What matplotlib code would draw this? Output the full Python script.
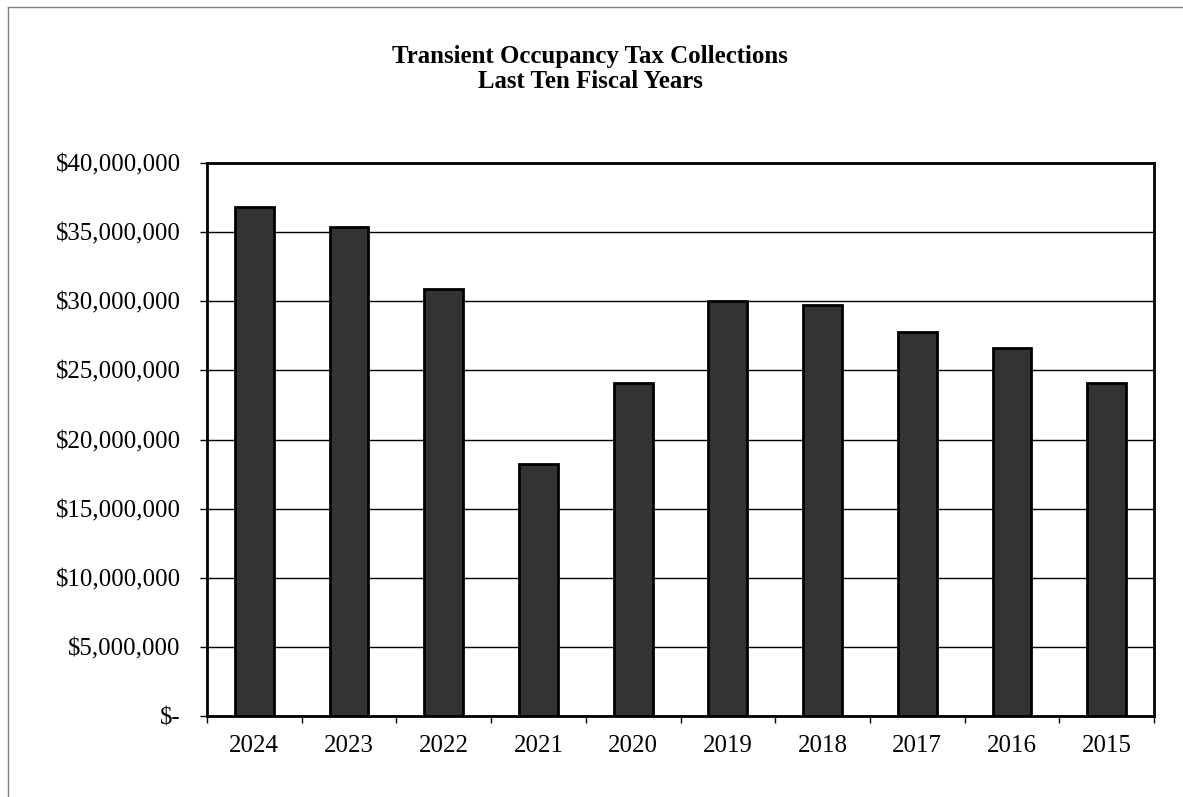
import matplotlib
matplotlib.use("Agg")
import matplotlib.pyplot as plt
from matplotlib.ticker import FuncFormatter, FixedLocator
from matplotlib.lines import Line2D

# ==== DATA ====
years = ["2024", "2023", "2022", "2021", "2020", "2019", "2018", "2017", "2016", "2015"]
collections = [36_800_000, 35_400_000, 30_860_000, 18_200_000, 24_100_000,
               30_030_000, 29_700_000, 27_750_000, 26_640_000, 24_100_000]
y_ticks = [0, 5_000_000, 10_000_000, 15_000_000, 20_000_000,
           25_000_000, 30_000_000, 35_000_000, 40_000_000]

plt.rcParams["font.family"] = ["Liberation Serif", "DejaVu Serif"]

W, H = 1183, 797
fig = plt.figure(figsize=(W / 100, H / 100), dpi=100)

# plot area in pixel coordinates of the reference
left, top, right, bottom = 207, 163, 1154, 716
ax = fig.add_axes([left / W, (H - bottom) / H, (right - left) / W, (bottom - top) / H])

x = range(len(years))
ax.bar(x, collections, width=0.41, color="#333333", edgecolor="black",
       linewidth=2, zorder=3)

ax.set_xlim(-0.5, len(years) - 0.5)
ax.set_ylim(0, 40_000_000)

# y axis: accounting-style dollar labels
def dollars(v, pos):
    if v == 0:
        return "$-"
    return "${:,.0f}".format(v)

ax.yaxis.set_major_locator(FixedLocator(y_ticks))
ax.yaxis.set_major_formatter(FuncFormatter(dollars))
ax.grid(axis="y", color="black", linewidth=1, zorder=1)
ax.tick_params(axis="y", direction="out", length=5, width=1, labelsize=17.9, pad=14)

# x axis: ticks between categories, labels centred on bars
ax.set_xticks([i - 0.5 for i in range(len(years) + 1)])
ax.set_xticklabels([])
ax.set_xticks(list(x), minor=True)
ax.set_xticklabels(years, minor=True)
ax.tick_params(axis="x", which="major", direction="out", length=5, width=1)
ax.tick_params(axis="x", which="minor", length=0, labelsize=17.9, pad=14)

for s in ax.spines.values():
    s.set_linewidth(2)
    s.set_color("black")

fig.text(590 / W, 1 - 69 / H,
         "Transient Occupancy Tax Collections\nLast Ten Fiscal Years",
         ha="center", va="center", fontsize=17.9, fontweight="bold",
         linespacing=1.08)

# outer chart border (clipped at right/bottom like the reference)
fig.add_artist(Line2D([8 / W, 1], [1 - 7 / H, 1 - 7 / H], color="#808080", linewidth=1))
fig.add_artist(Line2D([8 / W, 8 / W], [0, 1 - 7 / H], color="#808080", linewidth=1))

fig.savefig("out.png", dpi=100, facecolor="white")
